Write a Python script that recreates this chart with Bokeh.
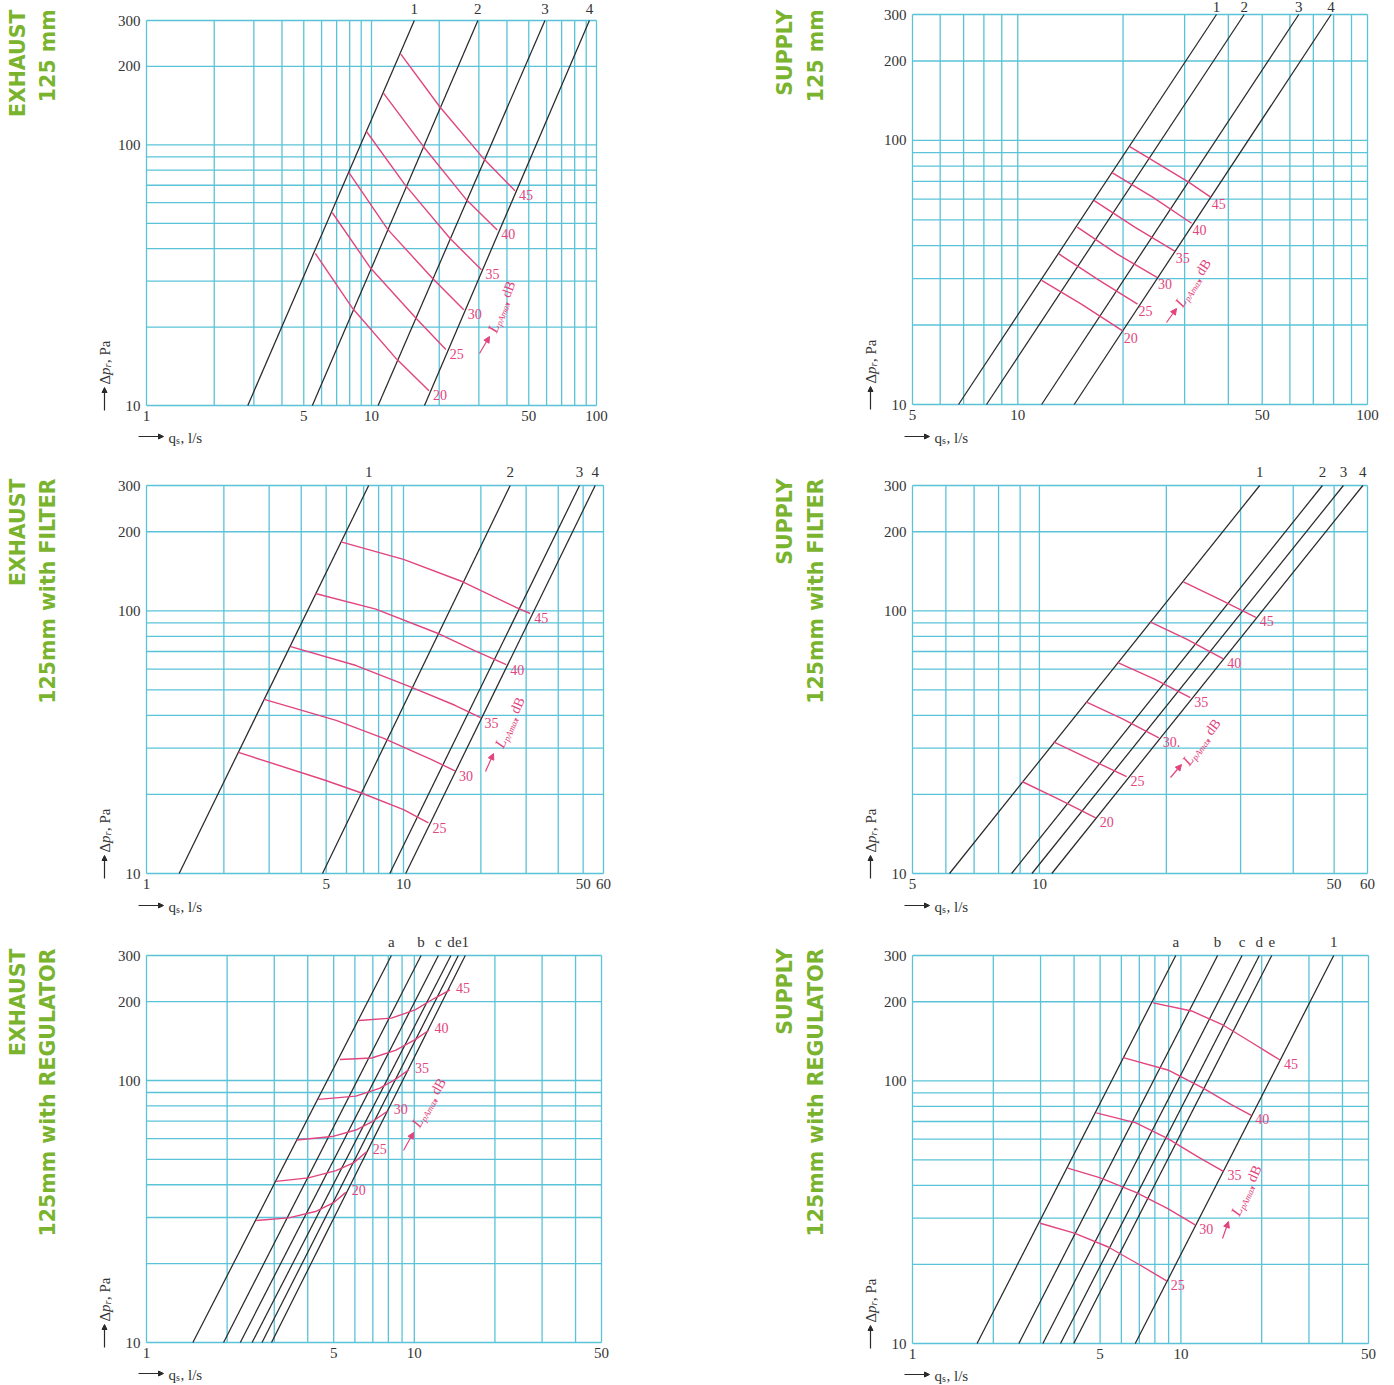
import math
from bokeh.plotting import figure
from bokeh.models import Label, Arrow, NormalHead, Range1d, LogScale
from bokeh.layouts import gridplot
from bokeh.embed import file_html
from bokeh.resources import INLINE

# ---------------- data ----------------
Y_RANGE = [10, 300]
Y_TICKS = [10, 100, 200, 300]
Y_GRID = [10, 20, 30, 40, 50, 60, 70, 80, 90, 100, 200, 300]
LINE_DP_ENDS = [10, 300]          # pressures at which each black line's flow was read

# Panel 1: EXHAUST 125 mm
p1_title = ["EXHAUST", "125 mm"]
p1_x_range = [1, 100]
p1_x_ticks = [1, 5, 10, 50, 100]
p1_x_grid = [1, 2, 3, 4, 5, 6, 7, 8, 9, 10, 20, 30, 40, 50, 60, 70, 80, 90, 100]
p1_line_names = ["1", "2", "3", "4"]
p1_line_q_at_10 = [2.82, 5.46, 10.7, 17.2]
p1_line_q_at_300 = [15.5, 29.7, 59.0, 93.0]
p1_sound_labels = ["20", "25", "30", "35", "40", "45"]
p1_sound_q = [[5.63, 8.27, 12.9, 18.0], [6.70, 9.92, 15.7, 21.4], [7.94, 11.8, 18.7, 25.7],
              [9.5, 14.1, 22.3, 30.8], [11.3, 17.0, 26.5, 36.2], [13.5, 20.1, 31.7, 43.4]]
p1_sound_dp = [[38.3, 23.5, 15.1, 11.4], [54.9, 33.6, 21.7, 16.4], [78.3, 47.4, 30.7, 23.3],
               [112.5, 70.2, 43.8, 33.2], [158, 98.6, 61.4, 47.1], [223, 140, 88, 66.7]]

# Panel 2: SUPPLY 125 mm
p2_title = ["SUPPLY", "125 mm"]
p2_x_range = [5, 100]
p2_x_ticks = [5, 10, 50, 100]
p2_x_grid = [5, 6, 7, 8, 9, 10, 20, 30, 40, 50, 60, 70, 80, 90, 100]
p2_line_names = ["1", "2", "3", "4"]
p2_line_q_at_10 = [6.77, 8.14, 11.7, 14.5]
p2_line_q_at_300 = [37.0, 44.4, 63.6, 78.7]
p2_sound_labels = ["20", "25", "30", "35", "40", "45"]
p2_sound_q = [[11.7, 15.2, 19.95], [13.1, 17.1, 22.0], [14.8, 19.2, 25.0],
              [16.5, 21.6, 28.1], [18.6, 24.3, 31.4], [20.9, 23.7, 30.8, 35.6]]
p2_sound_dp = [[29.5, 24.0, 19.0], [37.2, 29.5, 24.0], [47.0, 37.2, 30.3],
               [59.3, 47.0, 38.1], [75.5, 61.0, 48.6], [94.8, 85.7, 69.5, 61.0]]

# Panel 3: EXHAUST 125mm with FILTER
p3_title = ["EXHAUST", "125mm with FILTER"]
p3_x_range = [1, 60]
p3_x_ticks = [1, 5, 10, 50, 60]
p3_x_grid = [1, 2, 3, 4, 5, 6, 7, 8, 9, 10, 20, 30, 40, 50, 60]
p3_line_names = ["1", "2", "3", "4"]
p3_line_q_at_10 = [1.34, 4.84, 8.84, 10.2]
p3_line_q_at_300 = [7.32, 26.0, 48.4, 55.7]
p3_sound_labels = ["25", "30", "35", "40", "45"]
p3_sound_q = [[2.28, 4.92, 6.82, 10.0, 12.5], [2.87, 5.47, 8.38, 12.8, 15.85],
              [3.64, 6.54, 10.7, 15.85, 19.95], [4.54, 7.8, 13.8, 18.9, 25.1],
              [5.71, 10.0, 17.0, 27.4, 31.1]]
p3_sound_dp = [[28.9, 22.7, 20.3, 17.5, 15.6], [46.0, 38.3, 32.7, 27.2, 24.6],
               [73.1, 61.9, 51.2, 43.7, 39.2], [116.4, 101.5, 81.6, 70.5, 62.4],
               [183, 157, 129, 103, 97.7]]

# Panel 4: SUPPLY 125mm with FILTER
p4_title = ["SUPPLY", "125mm with FILTER"]
p4_x_range = [5, 60]
p4_x_ticks = [5, 10, 50, 60]
p4_x_grid = [5, 6, 7, 8, 9, 10, 20, 30, 40, 50, 60]
p4_line_names = ["1", "2", "3", "4"]
p4_line_q_at_10 = [6.12, 8.59, 9.6, 10.7]
p4_line_q_at_300 = [33.3, 46.9, 52.6, 58.5]
p4_sound_labels = ["20", "25", "30.", "35", "40", "45"]
p4_sound_q = [[9.09, 11.1, 13.6], [10.8, 13.2, 16.1], [12.9, 15.7, 19.2],
              [15.3, 18.7, 22.8], [18.3, 22.4, 27.3], [21.95, 26.7, 32.6]]
p4_sound_dp = [[22.4, 19.2, 16.3], [31.7, 27.2, 23.4], [45.0, 38.9, 32.8],
               [63.7, 55.1, 46.7], [90.8, 77.8, 65.6], [129, 110.7, 94.4]]

# Panel 5: EXHAUST 125mm with REGULATOR
p5_title = ["EXHAUST", "125mm with REGULATOR"]
p5_x_range = [1, 50]
p5_x_ticks = [1, 5, 10, 50]
p5_x_grid = [1, 2, 3, 4, 5, 6, 7, 8, 9, 10, 20, 30, 40, 50]
p5_line_names = ["a", "b", "c", "d", "e", "1"]
p5_line_q_at_10 = [1.49, 1.94, 2.24, 2.48, 2.70, 2.93]
p5_line_q_at_300 = [8.21, 10.6, 12.3, 13.7, 14.6, 15.5]
p5_sound_labels = ["20", "25", "30", "35", "40", "45"]
p5_sound_q = [[2.57, 3.40, 4.31, 5.02, 5.55], [3.04, 4.02, 5.10, 5.95, 6.65],
              [3.64, 4.93, 6.05, 7.05, 7.95], [4.38, 6.05, 7.41, 8.50, 9.55],
              [5.28, 6.93, 8.50, 10.07, 11.3], [6.22, 8.21, 10.07, 11.9, 13.6]]
p5_sound_dp = [[29.2, 29.9, 31.7, 34.3, 37.4], [41.2, 42.5, 45.3, 48.6, 53.6],
               [59.3, 61.1, 64.7, 70.2, 76.5], [84.7, 87.2, 93.3, 100.9, 110],
               [120.2, 121.9, 130.3, 143.2, 155.2], [169.4, 173, 186, 206, 221.6]]

# Panel 6: SUPPLY 125mm with REGULATOR
p6_title = ["SUPPLY", "125mm with REGULATOR"]
p6_x_range = [1, 50]
p6_x_ticks = [1, 5, 10, 50]
p6_x_grid = [1, 2, 3, 4, 5, 6, 7, 8, 9, 10, 20, 30, 40, 50]
p6_line_names = ["a", "b", "c", "d", "e", "1"]
p6_line_q_at_10 = [1.74, 2.49, 3.06, 3.56, 3.99, 6.76]
p6_line_q_at_300 = [9.57, 13.7, 16.9, 19.6, 21.8, 37.1]
p6_sound_labels = ["25", "30", "35", "40", "45"]
p6_sound_q = [[2.99, 4.01, 5.36, 7.04, 8.85], [3.79, 5.01, 6.80, 8.94, 11.3],
              [4.84, 6.80, 8.94, 11.7, 14.4], [6.10, 8.94, 12.1, 15.4, 18.3],
              [7.88, 10.96, 14.4, 18.6, 23.4]]
p6_sound_dp = [[28.7, 26.3, 23.3, 19.9, 17.3], [46.5, 42.7, 37.6, 32.6, 28.3],
               [75.5, 69.2, 60.2, 51.0, 45.2], [122.5, 110, 93.8, 81.1, 73.8],
               [198, 184.5, 162.8, 138.7, 120]]

# ---------------- styles / layout ----------------
SERIF = "Liberation Serif"
SANS = "DejaVu Sans"
GRID = "#5ac3d8"
INK = "#2a2a2a"
PINK = "#e2447e"
GREEN = "#7ab32e"
TICK = "#333333"

PANELS = [
    dict(title=p1_title, xr=p1_x_range, xt=p1_x_ticks, xg=p1_x_grid, names=p1_line_names,
         q10=p1_line_q_at_10, q300=p1_line_q_at_300, sl=p1_sound_labels, sq=p1_sound_q, sd=p1_sound_dp,
         fig=(0, 0, 700, 450), frame=(146, 20, 450, 385), title_x=(17, 47), title_y=9,
         top_gap=12, lab_off=(4, 4), xlab_gap=31,
         lp=(491.5, 331.5, 69), arr=(479, 353, 489, 336)),
    dict(title=p2_title, xr=p2_x_range, xt=p2_x_ticks, xg=p2_x_grid, names=p2_line_names,
         q10=p2_line_q_at_10, q300=p2_line_q_at_300, sl=p2_sound_labels, sq=p2_sound_q, sd=p2_sound_dp,
         fig=(700, 0, 693, 450), frame=(912, 14, 455, 390), title_x=(784, 815), title_y=9,
         top_gap=7.5, lab_off=(1, 7), xlab_gap=32,
         lp=(1178, 305, 57), arr=(1166, 322, 1176, 308)),
    dict(title=p3_title, xr=p3_x_range, xt=p3_x_ticks, xg=p3_x_grid, names=p3_line_names,
         q10=p3_line_q_at_10, q300=p3_line_q_at_300, sl=p3_sound_labels, sq=p3_sound_q, sd=p3_sound_dp,
         fig=(0, 450, 700, 470), frame=(146, 485, 457, 388), title_x=(17, 47), title_y=478,
         top_gap=14, lab_off=(4, 5), xlab_gap=32,
         lp=(498.5, 746.5, 66), arr=(485, 771, 493, 753)),
    dict(title=p4_title, xr=p4_x_range, xt=p4_x_ticks, xg=p4_x_grid, names=p4_line_names,
         q10=p4_line_q_at_10, q300=p4_line_q_at_300, sl=p4_sound_labels, sq=p4_sound_q, sd=p4_sound_dp,
         fig=(700, 450, 693, 470), frame=(912, 485, 455, 388), title_x=(784, 815), title_y=478,
         top_gap=14, lab_off=(4, 4), xlab_gap=32,
         lp=(1185, 763, 53), arr=(1170, 777, 1181, 764)),
    dict(title=p5_title, xr=p5_x_range, xt=p5_x_ticks, xg=p5_x_grid, names=p5_line_names,
         q10=p5_line_q_at_10, q300=p5_line_q_at_300, sl=p5_sound_labels, sq=p5_sound_q, sd=p5_sound_dp,
         fig=(0, 920, 700, 464), frame=(146, 955, 455, 387), title_x=(17, 47), title_y=948,
         top_gap=14, lab_off=(6, -2), xlab_gap=31,
         lp=(415, 1125.5, 60), arr=(403, 1150, 413, 1132)),
    dict(title=p6_title, xr=p6_x_range, xt=p6_x_ticks, xg=p6_x_grid, names=p6_line_names,
         q10=p6_line_q_at_10, q300=p6_line_q_at_300, sl=p6_sound_labels, sq=p6_sound_q, sd=p6_sound_dp,
         fig=(700, 920, 693, 464), frame=(912, 955, 456, 388), title_x=(784, 815), title_y=948,
         top_gap=14, lab_off=(4, 4), xlab_gap=31,
         lp=(1234.5, 1214.5, 65), arr=(1222, 1238, 1228, 1221)),
]


def build(c):
    fx, fy, W, H = c["fig"]
    fl, ft, fw, fh = c["frame"]
    xmin, xmax = c["xr"]
    fb = ft + fh
    lx = math.log10(xmax / xmin)
    ly = math.log10(Y_RANGE[1] / Y_RANGE[0])
    # the canvas is the whole panel; the log scales place the chart area at its spot
    x_lo = xmin * 10 ** (-(fl - fx) / fw * lx)
    x_hi = xmax * 10 ** ((fx + W - fl - fw) / fw * lx)
    y_lo = Y_RANGE[0] * 10 ** (-(fy + H - fb) / fh * ly)
    y_hi = Y_RANGE[1] * 10 ** ((ft - fy) / fh * ly)

    p = figure(x_axis_type="log", y_axis_type="log",
               x_range=Range1d(x_lo, x_hi), y_range=Range1d(y_lo, y_hi),
               width=W, height=H, min_border=0,
               x_axis_location=None, y_axis_location=None,
               output_backend="svg", toolbar_location=None, title=None,
               outline_line_color=None,
               background_fill_color="white", border_fill_color="white")
    p.x_scale = LogScale()
    p.y_scale = LogScale()
    p.grid.visible = False

    def to_data(px, py):
        return (xmin * 10 ** ((px - fl) / fw * lx),
                Y_RANGE[0] * 10 ** ((fb - py) / fh * ly))

    def to_px(q, d):
        return (fl + math.log10(q / xmin) / lx * fw,
                fb - math.log10(d / Y_RANGE[0]) / ly * fh)

    def label(px, py, text, size, color, font=SERIF, style="normal",
              align="left", baseline="middle", angle=0.0):
        x, y = to_data(px, py)
        p.add_layout(Label(x=x, y=y, text=text, text_font=font,
                           text_font_size=f"{size}px", text_font_style=style,
                           text_color=color, text_align=align,
                           text_baseline=baseline, angle=angle))

    def rich(px, py, pieces, angle_deg, color):
        th = math.radians(angle_deg)
        ux, uy = math.cos(th), -math.sin(th)
        vx, vy = math.sin(th), math.cos(th)
        adv = 0.0
        for text, size, style, drop, width in pieces:
            label(px + ux * adv + vx * drop, py + uy * adv + vy * drop,
                  text, size, color, style=style, angle=th)
            adv += width

    def arrow(x0, y0, x1, y1, color, size):
        a, b = to_data(x0, y0)
        cc, d = to_data(x1, y1)
        p.add_layout(Arrow(end=NormalHead(size=size, fill_color=color, line_color=color, line_width=1),
                           x_start=a, y_start=b, x_end=cc, y_end=d,
                           line_color=color, line_width=1.2))

    # grid (cyan), including the border lines of the chart area
    xg = c["xg"]
    p.segment(x0=xg, y0=[Y_RANGE[0]] * len(xg), x1=xg, y1=[Y_RANGE[1]] * len(xg),
              line_color=GRID, line_width=1.3)
    p.segment(x0=[xmin] * len(Y_GRID), y0=Y_GRID, x1=[xmax] * len(Y_GRID), y1=Y_GRID,
              line_color=GRID, line_width=1.3)

    # tick labels
    for t in c["xt"]:
        tx, _ = to_px(t, Y_RANGE[0])
        label(tx, fb + 5, f"{t:g}", 15, TICK, align="center", baseline="top")
    for t in Y_TICKS:
        _, ty = to_px(xmin, t)
        label(fl - 6, ty, f"{t:g}", 15, TICK, align="right", baseline="middle")

    # characteristic lines
    for name, q0, q1 in zip(c["names"], c["q10"], c["q300"]):
        p.line([q0, q1], LINE_DP_ENDS, line_color=INK, line_width=1.25)
        tx, _ = to_px(q1, LINE_DP_ENDS[1])
        label(tx, ft - c["top_gap"], name, 15, TICK, align="center")

    # sound level curves
    ox, oy = c["lab_off"]
    for lab, qs, ds in zip(c["sl"], c["sq"], c["sd"]):
        p.line(qs, ds, line_color=PINK, line_width=1.4)
        ex, ey = to_px(qs[-1], ds[-1])
        label(ex + ox, ey + oy, lab, 14, PINK)

    # L_pAmax, dB label + arrow
    ax_, ay_, ang = c["lp"]
    rich(ax_, ay_, [("L", 15, "italic", 0, 8.5), ("pAmax", 9, "italic", 4, 22),
                    (", dB", 14, "normal", 0, 0)], ang, PINK)
    a0, a1, a2, a3 = c["arr"]
    arrow(a0, a1, a2, a3, PINK, 6)

    # axis titles
    arrow(fl - 42, fb + 5, fl - 42, fb - 18, INK, 5)
    rich(fl - 42, fb - 21, [("Δ", 15, "normal", 0, 9.5), ("p", 15, "italic", 0, 7.5),
                            ("r", 10, "italic", 3, 4.5), (", Pa", 15, "normal", 0, 0)], 90, TICK)
    xa = fb + c["xlab_gap"]
    arrow(fl - 8, xa, fl + 17, xa, INK, 5)
    rich(fl + 22, xa + 1, [("q", 15, "normal", 0, 7.5), ("s", 10, "normal", 3, 4.5),
                           (", l/s", 15, "normal", 0, 0)], 0, TICK)

    # green panel titles
    t1, t2 = c["title"]
    x1, x2 = c["title_x"]
    label(x1, c["title_y"], t1, 20.5, GREEN, font=SANS, style="bold",
          align="right", angle=math.pi / 2)
    label(x2, c["title_y"], t2, 20.5, GREEN, font=SANS, style="bold",
          align="right", angle=math.pi / 2)
    return p


figs = [build(c) for c in PANELS]
grid = gridplot([[figs[0], figs[1]], [figs[2], figs[3]], [figs[4], figs[5]]],
                toolbar_location=None)

open("out.html", "w").write(file_html(grid, INLINE))
